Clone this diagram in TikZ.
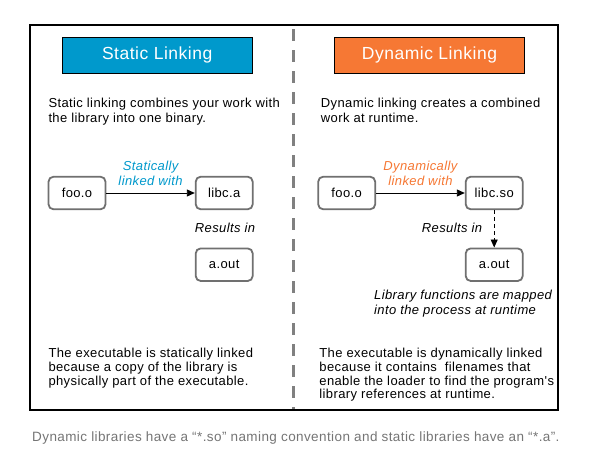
\documentclass[tikz,border=0pt]{standalone}
\usepackage{fontspec}
\setmainfont[LetterSpace=3, Ligatures=TeXOff]{Liberation Sans}
\usetikzlibrary{arrows.meta}
\definecolor{staticblue}{RGB}{0,153,204}
\definecolor{dynorange}{RGB}{246,120,52}
\definecolor{boxgray}{RGB}{112,112,112}
\definecolor{divgray}{RGB}{128,128,128}
\definecolor{capgray}{RGB}{117,117,117}
\begin{document}
\begin{tikzpicture}[x=1pt,y=-1pt,
  titlebox/.style={draw=black, line width=1pt, text=white, font=\fontsize{17.5}{20}\selectfont,
    minimum width=190.3pt, minimum height=36pt, inner sep=0pt},
  filebox/.style={draw=boxgray, line width=1.8pt, rounded corners=5pt, minimum width=57pt,
    minimum height=32.6pt, inner sep=0pt, font=\fontsize{13}{15}\selectfont},
  desc/.style={anchor=north west, align=left, inner sep=0pt, font=\fontsize{13}{14.4}\selectfont},
  bottomdesc/.style={anchor=north west, align=left, inner sep=0pt, font=\fontsize{13}{13.6}\selectfont},
  linklabel/.style={align=center, inner sep=0pt, font=\fontsize{13}{15}\selectfont\itshape},
  note/.style={inner sep=0pt, font=\fontsize{13}{15}\selectfont\itshape},
  conn/.style={line width=0.9pt, -{Triangle[length=8pt,width=7pt]}}
]
\useasboundingbox (0,0) rectangle (605,467);
\fill[white] (0,0) rectangle (605,467);
% frame
\draw[black, line width=2pt] (29.7,25) rectangle (557.7,409.5);
% divider
\coordinate (divtop) at (293.3,29.3);
\coordinate (divbot) at (293.3,409);
\draw[divgray, line width=3pt, dash pattern=on 12pt off 9pt] (divtop) -- (divbot);
% titles
\node[titlebox, fill=staticblue] (tstatic) at (157.2,55.3) {Static Linking};
\node[titlebox, fill=dynorange] (tdyn) at (429.5,55.3) {Dynamic Linking};
% descriptions
\node[desc] (dstatic) at (48.3,98) {Static linking combines your work with\\the library into one binary.};
\node[desc] (ddyn) at (320.7,98) {Dynamic linking creates a combined\\work at runtime.};
% static diagram
\node[filebox] (foo1) at (77,193) {foo.o};
\node[filebox] (liba) at (224.2,193) {libc.a};
\node[filebox] (aout1) at (224.2,264.7) {a.out};
\draw[conn] (foo1) -- node[linklabel, above=7pt, text=staticblue] (lbl1) {Statically\\linked with} (liba);
\node[note, anchor=base] (res1) at (225,232.3) {Results in};
% dynamic diagram
\node[filebox] (foo2) at (346.7,193) {foo.o};
\node[filebox] (libso) at (494.2,193) {libc.so};
\node[filebox] (aout2) at (494.2,264.7) {a.out};
\draw[conn] (foo2) -- node[linklabel, above=7pt, text=dynorange] (lbl2) {Dynamically\\linked with} (libso);
\draw[conn, dash pattern=on 4pt off 3pt] (libso) -- (aout2);
\node[note, anchor=base east] (res2) at (482.3,232.3) {Results in};
\node[note, anchor=north west, align=left, font=\fontsize{13}{15.5}\selectfont\itshape] (mapnote) at (374,289.5)
  {Library functions are mapped\\into the process at runtime};
% bottom descriptions
\node[bottomdesc] (bstatic) at (48.3,348.3) {The executable is statically linked\\because a copy of the library is\\physically part of the executable.};
\node[bottomdesc] (bdyn) at (319.2,348.3) {The executable is dynamically linked\\because it contains \ filenames that\\enable the loader to find the program's\\library references at runtime.};
% caption
\node[anchor=base west, inner sep=0pt, text=capgray, font=\fontsize{13.5}{15}\selectfont] (caption) at (32,441)
  {Dynamic libraries have a “*.so” naming convention and static libraries have an “*.a”.};
\end{tikzpicture}
\end{document}
